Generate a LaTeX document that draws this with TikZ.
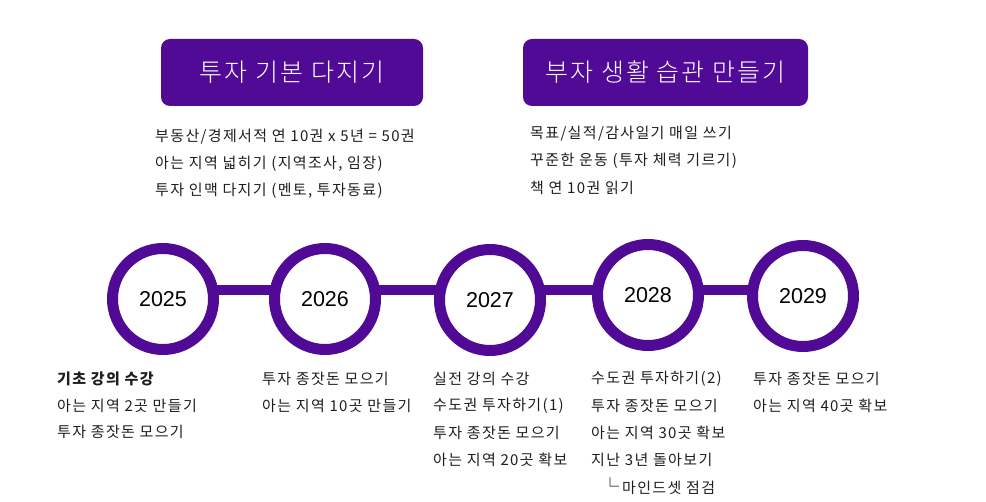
\documentclass[tikz,border=0pt]{standalone}
\usepackage{fontspec}
\setmainfont{Noto Sans CJK KR}
\newfontfamily\yearfont{Liberation Sans}
\newfontfamily\wide[LetterSpace=9]{Noto Sans CJK KR}
\newfontfamily\headfont[LetterSpace=8]{Noto Sans CJK KR Light}
\usetikzlibrary{backgrounds}
\definecolor{vio}{RGB}{80,10,150}
\definecolor{txt}{RGB}{30,30,30}
\tikzset{
  yearc/.style={circle,draw=vio,line width=11pt,fill=white,minimum size=101pt,inner sep=0pt,font=\yearfont\fontsize{21.5}{24}\selectfont,text=black},
  conn/.style={draw=vio,line width=10pt},
  head/.style={rounded corners=9pt,fill=vio,text=white,minimum width=262pt,minimum height=67pt,inner sep=0pt,font=\headfont\fontsize{25}{28}\selectfont},
  item/.style={anchor=west,inner sep=0pt,text=txt,font=\wide\fontsize{15}{17}\selectfont}
}
\begin{document}
\begin{tikzpicture}[x=1pt,y=-1pt]
\useasboundingbox (0,0) rectangle (986,502);
% headers
\node[head] (h1) at (292,72.5) {투자\ 기본\ 다지기};
\node[head,minimum width=285pt] (h2) at (665.5,72.5) {부자\ 생활\ 습관\ 만들기};
% top lists
\node[item] (a1) at (155,137) {부동산/경제서적 연 10권 x 5년 = 50권};
\node[item] (a2) at (155,164) {아는 지역 넓히기 (지역조사, 임장)};
\node[item] (a3) at (155,191) {투자 인맥 다지기 (멘토, 투자동료)};
\node[item] (b1) at (530,134) {목표/실적/감사일기 매일 쓰기};
\node[item] (b2) at (530,161) {꾸준한 운동 (투자 체력 기르기)};
\node[item] (b3) at (530,188) {책 연 10권 읽기};
% timeline
\node[yearc] (y25) at (163,299) {2025};
\node[yearc] (y26) at (325,299) {2026};
\node[yearc] (y27) at (490,300) {2027};
\node[yearc] (y28) at (648,295) {2028};
\node[yearc] (y29) at (803,296) {2029};
\begin{scope}[on background layer]
\draw[conn] ([yshift=9pt]y25.center) -- ([yshift=9pt]y26.center);
\draw[conn] ([yshift=9pt]y26.center) -- ([yshift=10pt]y27.center);
\draw[conn] ([yshift=10pt]y27.center) -- ([yshift=5pt]y28.center);
\draw[conn] ([yshift=5pt]y28.center) -- ([yshift=6pt]y29.center);
\end{scope}
% bottom lists
\node[item,font=\wide\bfseries\fontsize{15}{17}\selectfont] (c1) at (57,379) {기초 강의 수강};
\node[item] (c2) at (57,406) {아는 지역 2곳 만들기};
\node[item] (c3) at (57,432) {투자 종잣돈 모으기};
\node[item] (d1) at (262,379) {투자 종잣돈 모으기};
\node[item] (d2) at (262,406) {아는 지역 10곳 만들기};
\node[item] (e1) at (433,379) {실전 강의 수강};
\node[item] (e2) at (433,406) {수도권 투자하기(1)};
\node[item] (e3) at (433,433) {투자 종잣돈 모으기};
\node[item] (e4) at (433,460) {아는 지역 20곳 확보};
\node[item] (f1) at (591,379) {수도권 투자하기(2)};
\node[item] (f2) at (591,406) {투자 종잣돈 모으기};
\node[item] (f3) at (591,433) {아는 지역 30곳 확보};
\node[item] (f4) at (591,460) {지난 3년 돌아보기};
\node[item] (f5) at (601,486) {{\fontsize{18}{18}\selectfont└}\hspace{3pt}마인드셋 점검};
\node[item] (g1) at (753,379) {투자 종잣돈 모으기};
\node[item] (g2) at (753,406) {아는 지역 40곳 확보};
\end{tikzpicture}
\end{document}
